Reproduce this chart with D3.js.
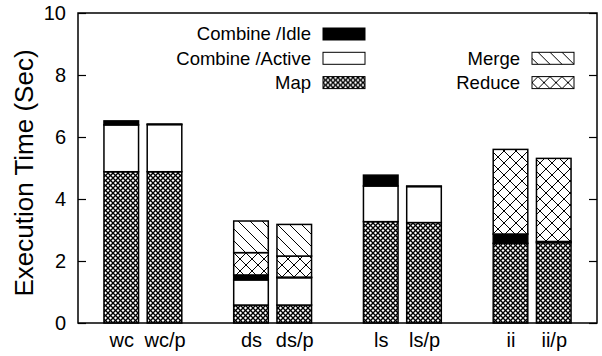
<!DOCTYPE html>
<html lang="en">
<head>
    <meta charset="UTF-8">
    <title>Execution time</title>
    <style>
        body { margin: 0; background: #fff; }
        #chart { font-family: "Liberation Sans", Arial, sans-serif; }
        .axis-text { font-size: 20px; }
        .title-text { font-size: 26px; }
        .key-text { font-size: 18.5px; }
    </style>
    <script src="https://d3js.org/d3.v7.min.js"></script>
</head>
<body>
    <div id="chart"></div>
    <script>
        // Benchmarks, in pairs (plain and /p)
        const labels = ['wc', 'wc/p', 'ds', 'ds/p', 'ls', 'ls/p', 'ii', 'ii/p'];

        // Stacked segments, seconds (bottom to top)
        const mapTime     = [4.88, 4.88, 0.58, 0.58, 3.27, 3.24, 2.57, 2.59];
        const activeTime  = [1.51, 1.52, 0.81, 0.88, 1.15, 1.16, 0.00, 0.00];
        const idleTime    = [0.13, 0.02, 0.16, 0.02, 0.35, 0.02, 0.30, 0.04];
        const reduceTime  = [0.00, 0.00, 0.72, 0.68, 0.00, 0.00, 2.73, 2.68];
        const mergeTime   = [0.00, 0.00, 1.02, 1.02, 0.00, 0.00, 0.00, 0.00];

        const yTicks = [0, 2, 4, 6, 8, 10];

        const series = [
            { name: 'Map', values: mapTime, fill: 'url(#fine)' },
            { name: 'Combine /Active', values: activeTime, fill: '#fff' },
            { name: 'Combine /Idle', values: idleTime, fill: '#000' },
            { name: 'Reduce', values: reduceTime, fill: 'url(#coarse)' },
            { name: 'Merge', values: mergeTime, fill: 'url(#diag)' }
        ];

        const W = 602, H = 356;
        const margin = { top: 13, right: 5, bottom: 33, left: 78 };
        const width = W - margin.left - margin.right;
        const height = H - margin.top - margin.bottom;

        const svg = d3.select('#chart').append('svg')
            .attr('width', W)
            .attr('height', H);

        // hatch patterns
        const defs = svg.append('defs');
        function hatch(id, size, dirs, sw) {
            const p = defs.append('pattern')
                .attr('id', id)
                .attr('patternUnits', 'userSpaceOnUse')
                .attr('width', size)
                .attr('height', size);
            p.append('rect').attr('width', size).attr('height', size).attr('fill', '#fff');
            dirs.forEach(d => {
                const segs = d === '\\'
                    ? [[0, 0, size, size], [-size, 0, 0, size], [size, 0, 2 * size, size]]
                    : [[0, size, size, 0], [-size, size, 0, 0], [size, size, 2 * size, 0]];
                segs.forEach(s => p.append('line')
                    .attr('x1', s[0]).attr('y1', s[1]).attr('x2', s[2]).attr('y2', s[3])
                    .attr('stroke', '#000').attr('stroke-width', sw));
            });
        }
        hatch('fine', 5, ['\\', '/'], 1.3);
        hatch('coarse', 12, ['\\', '/'], 1);
        hatch('diag', 12, ['\\'], 1);

        const g = svg.append('g')
            .attr('transform', `translate(${margin.left},${margin.top})`);

        // slot index: pairs separated by one empty slot
        const slot = i => i + Math.floor(i / 2);

        const x = d3.scaleLinear()
            .domain([-1, 11])
            .range([0, width]);
        const slotW = x(1) - x(0);
        const barW = slotW * 0.8;

        const y = d3.scaleLinear()
            .domain([0, 10])
            .range([height, 0]);

        // stacked bars
        const stacked = labels.map((lab, i) => {
            let base = 0;
            return series.map(s => {
                const seg = { i: i, y0: base, y1: base + s.values[i], fill: s.fill };
                base += s.values[i];
                return seg;
            }).filter(seg => seg.y1 > seg.y0);
        });

        g.selectAll('.bar')
            .data(stacked)
            .enter().append('g')
            .attr('class', 'bar')
            .selectAll('rect')
            .data(d => d)
            .enter().append('rect')
            .attr('x', d => x(slot(d.i)) - barW / 2)
            .attr('width', barW)
            .attr('y', d => y(d.y1))
            .attr('height', d => y(d.y0) - y(d.y1))
            .attr('fill', d => d.fill)
            .attr('stroke', '#000')
            .attr('stroke-width', 1.5);

        // axes (gnuplot style, ticks inward)
        const yAxisL = g.append('g')
            .call(d3.axisLeft(y).tickValues(yTicks).tickSizeInner(-8).tickSizeOuter(0).tickPadding(12));
        const yAxisR = g.append('g')
            .attr('transform', `translate(${width},0)`)
            .call(d3.axisRight(y).tickValues(yTicks).tickSizeInner(-8).tickSizeOuter(0).tickFormat(''));
        [yAxisL, yAxisR].forEach(a => {
            a.select('.domain').remove();
            a.selectAll('line').attr('stroke', '#000').attr('stroke-width', 1.2);
        });
        yAxisL.selectAll('text')
            .attr('class', 'axis-text')
            .attr('font-size', null)
            .attr('font-family', null)
            .attr('fill', '#000');

        const xAxis = g.append('g')
            .attr('transform', `translate(0,${height})`)
            .call(d3.axisBottom(x)
                .tickValues(labels.map((d, i) => slot(i)))
                .tickFormat((d, i) => labels[i])
                .tickSize(0).tickPadding(10));
        xAxis.select('.domain').remove();
        xAxis.selectAll('text')
            .attr('class', 'axis-text')
            .attr('font-size', null)
            .attr('font-family', null)
            .attr('fill', '#000');

        // frame
        g.append('rect')
            .attr('width', width)
            .attr('height', height)
            .attr('fill', 'none')
            .attr('stroke', '#000')
            .attr('stroke-width', 1.5);

        // y title
        svg.append('text')
            .attr('class', 'title-text')
            .attr('transform', 'rotate(-90)')
            .attr('x', -173)
            .attr('y', 33)
            .attr('text-anchor', 'middle')
            .text('Execution Time (Sec)');

        // key
        const keyItems = [
            { name: 'Combine /Idle', fill: '#000', col: 0, row: 0 },
            { name: 'Combine /Active', fill: '#fff', col: 0, row: 1 },
            { name: 'Map', fill: 'url(#fine)', col: 0, row: 2 },
            { name: 'Merge', fill: 'url(#diag)', col: 1, row: 1 },
            { name: 'Reduce', fill: 'url(#coarse)', col: 1, row: 2 }
        ];
        const keyCols = [323, 532];
        const key = svg.selectAll('.key')
            .data(keyItems)
            .enter().append('g')
            .attr('class', 'key')
            .attr('transform', d => `translate(${keyCols[d.col]},${34 + d.row * 24.3})`);
        key.append('rect')
            .attr('x', 0)
            .attr('y', -6)
            .attr('width', 42)
            .attr('height', 12)
            .attr('fill', d => d.fill)
            .attr('stroke', '#000')
            .attr('stroke-width', 1);
        key.append('text')
            .attr('class', 'key-text')
            .attr('x', -12)
            .attr('dy', '0.35em')
            .attr('text-anchor', 'end')
            .text(d => d.name);
    </script>
</body>
</html>
